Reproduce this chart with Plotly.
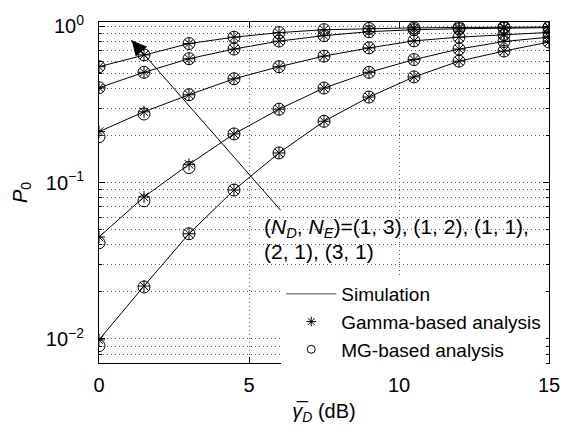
import plotly.graph_objects as go

# Average SNR of the destination link (dB)
snr_db = [0, 1.5, 3, 4.5, 6, 7.5, 9, 10.5, 12, 13.5, 15]

# Configurations (N_D, N_E)
configs = ["(1, 3)", "(1, 2)", "(1, 1)", "(2, 1)", "(3, 1)"]

# Simulated P_0 per configuration
sim_13 = [0.552, 0.657, 0.776, 0.853, 0.912, 0.952, 0.970, 0.978, 0.984, 0.988, 0.990]
sim_12 = [0.405, 0.508, 0.621, 0.716, 0.805, 0.872, 0.925, 0.952, 0.965, 0.975, 0.982]
sim_11 = [0.212, 0.284, 0.365, 0.462, 0.552, 0.645, 0.728, 0.808, 0.853, 0.885, 0.915]
sim_21 = [0.0449, 0.081, 0.131, 0.205, 0.295, 0.403, 0.508, 0.613, 0.716, 0.800, 0.853]
sim_31 = [0.00986, 0.0218, 0.0471, 0.0897, 0.155, 0.247, 0.353, 0.475, 0.599, 0.695, 0.794]

# Gamma-based analysis
gam_13 = [0.552, 0.657, 0.776, 0.853, 0.912, 0.952, 0.970, 0.978, 0.984, 0.988, 0.990]
gam_12 = [0.405, 0.508, 0.621, 0.716, 0.805, 0.872, 0.925, 0.952, 0.965, 0.975, 0.982]
gam_11 = [0.212, 0.284, 0.365, 0.462, 0.552, 0.645, 0.728, 0.808, 0.853, 0.885, 0.915]
gam_21 = [0.0449, 0.081, 0.131, 0.205, 0.295, 0.403, 0.508, 0.613, 0.716, 0.800, 0.853]
gam_31 = [0.00986, 0.0218, 0.0471, 0.0897, 0.155, 0.247, 0.353, 0.475, 0.599, 0.695, 0.794]

# MG-based analysis
mg_13 = [0.552, 0.657, 0.776, 0.853, 0.912, 0.952, 0.970, 0.978, 0.984, 0.988, 0.990]
mg_12 = [0.405, 0.508, 0.621, 0.716, 0.805, 0.872, 0.925, 0.952, 0.965, 0.975, 0.982]
mg_11 = [0.197, 0.275, 0.365, 0.462, 0.552, 0.645, 0.728, 0.808, 0.853, 0.885, 0.915]
mg_21 = [0.0412, 0.0765, 0.125, 0.205, 0.295, 0.403, 0.508, 0.613, 0.716, 0.800, 0.853]
mg_31 = [0.00906, 0.0215, 0.0471, 0.0897, 0.155, 0.247, 0.353, 0.475, 0.599, 0.695, 0.794]

y_tickvals = [0.01, 0.1, 1]
y_ticktext = ["10<sup>\u22122</sup>", "10<sup>\u22121</sup>", "10<sup>0</sup>"]
x_tickvals = [0, 5, 10, 15]

FONT = "Liberation Sans, Arial, Helvetica, sans-serif"
GRID = dict(showgrid=True, gridcolor="#555555", gridwidth=1, griddash="1px,3px")
sims = [sim_13, sim_12, sim_11, sim_21, sim_31]
gams = [gam_13, gam_12, gam_11, gam_21, gam_31]
mgs = [mg_13, mg_12, mg_11, mg_21, mg_31]

fig = go.Figure()

for cfg, s in zip(configs, sims):
    fig.add_trace(go.Scatter(
        x=snr_db, y=s, mode="lines", name="Simulation", showlegend=False,
        line=dict(color="black", width=1),
        hovertemplate=f"(N_D, N_E)={cfg}<br>%{{x}} dB: %{{y}}<extra>Simulation</extra>",
    ))
for cfg, g in zip(configs, gams):
    fig.add_trace(go.Scatter(
        x=snr_db, y=g, mode="markers", name="Gamma-based analysis", showlegend=False,
        marker=dict(symbol="asterisk-open", size=10, color="black",
                    line=dict(color="black", width=1)),
    ))
for cfg, m in zip(configs, mgs):
    fig.add_trace(go.Scatter(
        x=snr_db, y=m, mode="markers", name="MG-based analysis", showlegend=False,
        marker=dict(symbol="circle-open", size=12, color="black",
                    line=dict(color="black", width=1)),
    ))

# Legend entries (smaller symbols than the plotted markers)
fig.add_trace(go.Scatter(x=[None], y=[None], mode="lines", name="Simulation",
                         line=dict(color="#444444", width=1)))
fig.add_trace(go.Scatter(x=[None], y=[None], mode="markers", name="Gamma-based analysis",
                         marker=dict(symbol="asterisk-open", size=8, color="black",
                                     line=dict(color="black", width=1))))
fig.add_trace(go.Scatter(x=[None], y=[None], mode="markers", name="MG-based analysis",
                         marker=dict(symbol="circle-open", size=8, color="black",
                                     line=dict(color="black", width=1))))

minor_vals = [k * 10.0 ** e for e in (-3, -2, -1) for k in range(2, 10)]

fig.update_layout(
    width=572, height=430,
    margin=dict(l=99, r=17, t=13, b=62),
    paper_bgcolor="white", plot_bgcolor="white",
    font=dict(family=FONT, size=19, color="black"),
    showlegend=True,
    legend=dict(
        x=0.405, y=0.258, xanchor="left", yanchor="top",
        bgcolor="white", borderwidth=0,
        font=dict(family=FONT, size=19, color="black"),
        itemwidth=50, tracegroupgap=0,
    ),
    xaxis=dict(
        range=[0, 15], tickvals=x_tickvals,
        ticks="inside", ticklen=6, tickcolor="black",
        showline=True, linecolor="black", linewidth=1, mirror="ticks",
        zeroline=False, ticklabelstandoff=4,
        tickfont=dict(family=FONT, size=20),
        title=dict(text="<i>\u03b3\u0305<sub>D</sub></i> (dB)", standoff=8,
                   font=dict(family=FONT, size=20)),
        **GRID,
    ),
    yaxis=dict(
        type="log", range=[-2.154, 0.028],
        tickvals=y_tickvals, ticktext=y_ticktext,
        ticks="inside", ticklen=6, tickcolor="black",
        showline=True, linecolor="black", linewidth=1, mirror="ticks",
        zeroline=False, ticklabelstandoff=10,
        tickfont=dict(family=FONT, size=20),
        minor=dict(tickvals=minor_vals, ticks="inside", ticklen=3, tickcolor="black", **GRID),
        title=dict(text="<i>P</i><sub>0</sub>", standoff=12,
                   font=dict(family=FONT, size=20)),
        **GRID,
    ),
)

# Clear the grid behind the configuration label
fig.add_shape(type="rect", xref="paper", yref="paper",
              x0=0.316, x1=0.997, y0=0.332, y1=0.451,
              fillcolor="white", line=dict(width=0), layer="between")

# Arrow pointing along the family of curves: shaft plus head
tip = (0.0724, 0.9465)
tail = (0.4035, 0.448)
fig.add_shape(type="line", xref="paper", yref="paper",
              x0=tail[0], y0=tail[1], x1=tip[0], y1=tip[1],
              line=dict(color="black", width=1), layer="above")
fig.add_annotation(
    x=tip[0], y=tip[1], xref="paper", yref="paper",
    ax=13, ay=15, text="", font=dict(size=1), borderpad=0,
    showarrow=True, arrowhead=2, arrowsize=3, arrowwidth=1,
    arrowcolor="black",
)
# Configuration label, two lines
fig.add_annotation(
    x=0.362, y=0.397, xref="paper", yref="paper", xanchor="left", yanchor="middle",
    text="(<i>N<sub>D</sub></i>, <i>N<sub>E</sub></i>)=" + ", ".join(configs[:3]) + ",",
    showarrow=False, align="left", font=dict(family=FONT, size=21),
)
fig.add_annotation(
    x=0.362, y=0.327, xref="paper", yref="paper", xanchor="left", yanchor="middle",
    text=", ".join(configs[3:]),
    showarrow=False, align="left", font=dict(family=FONT, size=21),
)

# The page body gets no default margin so the figure sits at the top-left corner
fig.write_html("out.html", post_script="document.body.style.margin='0';")
